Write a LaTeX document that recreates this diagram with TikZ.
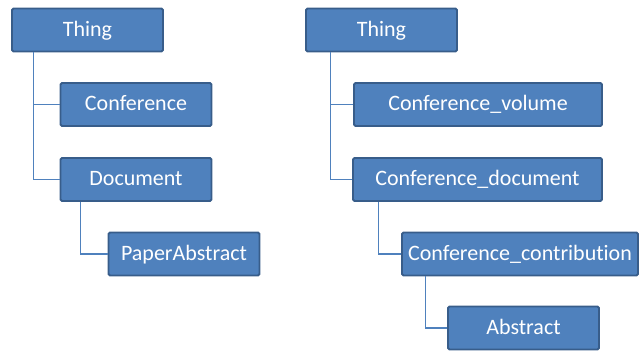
\documentclass[tikz,border=0pt]{standalone}
\usepackage{fontspec}
\setmainfont[Ligatures=NoCommon]{Carlito}
\definecolor{boxfill}{HTML}{4F81BD}
\definecolor{boxline}{HTML}{385D8A}
\tikzset{
class/.style={draw=boxline, line width=1.8pt, fill=boxfill, rounded corners=1.5pt,
  text=white, minimum height=43pt, minimum width=151pt, inner sep=0pt,
  text height=15pt, text depth=3pt,
  font=\fontsize{22}{24}\selectfont},
link/.style={draw=boxfill, line width=1.2pt}
}

\begin{document}
\begin{tikzpicture}[x=1pt, y=-1pt]
  \useasboundingbox (0,0) rectangle (639,354);
% first hierarchy
\node[class] (thing1) at (87.5,30) {Thing};
\node[class] (conference) at (136,104.5) {Conference};
\node[class] (document) at (136,179.5) {Document};
\node[class] (paperabstract) at (184,254) {PaperAbstract};
\draw[link] ([xshift=22pt]thing1.south west) |- (conference.west);
\draw[link] ([xshift=22pt]thing1.south west) |- (document.west);
\draw[link] ([xshift=21pt]document.south west) |- (paperabstract.west);
% second hierarchy
\node[class] (thing2) at (381.5,30) {Thing};
\node[class, minimum width=248pt] (confvolume) at (478,104.5) {Conference\_volume};
\node[class, minimum width=249pt] (confdocument) at (477.5,179.5) {Conference\_document};
\node[class, minimum width=236pt] (confcontrib) at (520,254) {Conference\_contribution};
\node[class] (abstract) at (523.5,328) {Abstract};
\draw[link] ([xshift=25pt]thing2.south west) |- (confvolume.west);
\draw[link] ([xshift=25pt]thing2.south west) |- (confdocument.west);
\draw[link] ([xshift=26pt]confdocument.south west) |- (confcontrib.west);
\draw[link] ([xshift=24pt]confcontrib.south west) |- (abstract.west);
\end{tikzpicture}
\end{document}
